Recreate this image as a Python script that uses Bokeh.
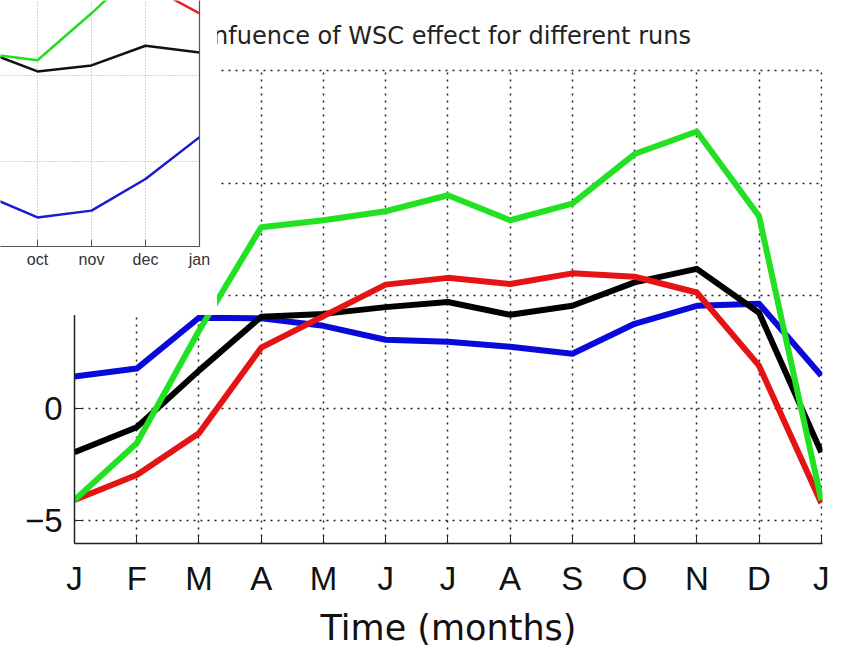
from bokeh.plotting import figure
from bokeh.models import FixedTicker, LinearAxis, Range1d
from bokeh.embed import file_html
from bokeh.resources import INLINE

# ---- main chart data ----
months = ["J", "F", "M", "A", "M", "J", "J", "A", "S", "O", "N", "D", "J"]
month_idx = list(range(13))
green = [-4.07, -1.55, 3.45, 8.05, 8.36, 8.76, 9.47, 8.36, 9.1, 11.3, 12.3, 8.54, -4.07]
red = [-4.07, -2.96, -1.1, 2.7, 4.1, 5.5, 5.8, 5.53, 6.0, 5.85, 5.15, 1.9, -4.2]
black = [-1.95, -0.84, 1.68, 4.07, 4.2, 4.5, 4.73, 4.16, 4.56, 5.6, 6.2, 4.25, -1.95]
blue = [1.42, 1.77, 4.03, 4.0, 3.67, 3.05, 2.96, 2.74, 2.43, 3.76, 4.56, 4.65, 1.46]
y_ticks = [-5, 0, 5, 10, 15]

# ---- inset data ----
inset_labels = ["sep", "oct", "nov", "dec", "jan"]
inset_idx = [9, 10, 11, 12, 13]
inset_green = [22.6, 21.8, 27.3, 33.2, 34.0]
inset_red = [33.5, 33.0, 32.5, 30.7, 27.3]
inset_black = [22.9, 20.5, 21.2, 23.5, 22.7]
inset_blue = [6.1, 3.4, 4.2, 7.9, 12.8]
inset_grid_y = [0, 10, 20]

# ---------------- main figure ----------------
p = figure(width=847, height=650, output_backend="svg", toolbar_location=None,
           x_range=Range1d(0, 12.02), y_range=Range1d(-6, 15.1),
           min_border_left=74, min_border_right=25, min_border_top=68, min_border_bottom=107,
           background_fill_color="white", border_fill_color="white")
p.outline_line_color = None

p.title.text = "Infuence of WSC effect for different runs"
p.title.align = "center"
p.title.text_font = "DejaVu Sans"
p.title.text_font_size = "24px"
p.title.text_font_style = "normal"
p.title.text_color = "#222222"
p.title.standoff = 37

p.xaxis.ticker = FixedTicker(ticks=month_idx)
p.xaxis.major_label_overrides = {i: m for i, m in zip(month_idx, months)}
p.yaxis.ticker = FixedTicker(ticks=y_ticks)
for ax in (p.xaxis, p.yaxis):
    ax.axis_line_color = "#222222"
    ax.axis_line_width = 1.5
    ax.major_tick_in = 8
    ax.major_tick_out = 0
    ax.major_tick_line_color = "#222222"
    ax.minor_tick_line_color = None
    ax.major_label_text_font = "Liberation Sans"
    ax.major_label_text_font_size = "33px"
    ax.major_label_text_color = "#111111"
p.xaxis.major_label_standoff = 16
p.yaxis.major_label_standoff = 12
p.xaxis.axis_label = "Time (months)"
p.xaxis.axis_label_text_font = "DejaVu Sans"
p.xaxis.axis_label_text_font_size = "35px"
p.xaxis.axis_label_text_font_style = "normal"
p.xaxis.axis_label_text_color = "#111111"
p.xaxis.axis_label_standoff = 8

p.xgrid.ticker = FixedTicker(ticks=month_idx)
p.ygrid.ticker = FixedTicker(ticks=y_ticks)
for g in (p.xgrid, p.ygrid):
    g.grid_line_color = "#222222"
    g.grid_line_width = 1.5
    g.grid_line_dash = "2 5"

p.line(month_idx, blue, line_color="#0a0ad8", line_width=6, line_join="round")
p.line(month_idx, black, line_color="#000000", line_width=6, line_join="round")
p.line(month_idx, red, line_color="#e41414", line_width=6, line_join="round")
p.line(month_idx, green, line_color="#22e022", line_width=6, line_join="round")

# ---------------- inset figure ----------------
q = figure(width=217, height=315, output_backend="svg", toolbar_location=None,
           x_range=Range1d(10 - 37 / 54, 13), y_range=Range1d(0, 28.8),
           y_axis_location=None,
           min_border_left=0, min_border_right=18, min_border_top=0, min_border_bottom=69,
           background_fill_color="white", border_fill_color="white")
q.outline_line_color = None
q.xaxis.ticker = FixedTicker(ticks=inset_idx)
q.xaxis.major_label_overrides = {i: m for i, m in zip(inset_idx, inset_labels)}
q.xaxis.axis_line_color = "#555555"
q.xaxis.axis_line_width = 1.2
q.xaxis.major_tick_in = 7
q.xaxis.major_tick_out = 0
q.xaxis.major_tick_line_color = "#555555"
q.xaxis.minor_tick_line_color = None
q.xaxis.major_label_text_font = "Liberation Sans"
q.xaxis.major_label_text_font_size = "16px"
q.xaxis.major_label_text_color = "#333333"
q.xaxis.major_label_standoff = 4

right_axis = LinearAxis(ticker=FixedTicker(ticks=[]), major_label_text_font_size="0px",
                        major_tick_line_color=None, minor_tick_line_color=None,
                        axis_line_color="#555555", axis_line_width=1.2)
q.add_layout(right_axis, "right")

q.xgrid.ticker = FixedTicker(ticks=inset_idx)
q.ygrid.ticker = FixedTicker(ticks=inset_grid_y)
for g in (q.xgrid, q.ygrid):
    g.grid_line_color = "#aaaaaa"
    g.grid_line_width = 1
    g.grid_line_dash = "1 2"

q.line(inset_idx, inset_blue, line_color="#1a1ad0", line_width=2.5)
q.line(inset_idx, inset_black, line_color="#111111", line_width=2.5)
q.line(inset_idx, inset_red, line_color="#e82020", line_width=2.5)
q.line(inset_idx, inset_green, line_color="#22dd22", line_width=2.5)

q.styles = {"position": "absolute", "top": "0px", "left": "0px", "z-index": "10"}

open("out.html", "w").write(file_html([p, q], INLINE))
